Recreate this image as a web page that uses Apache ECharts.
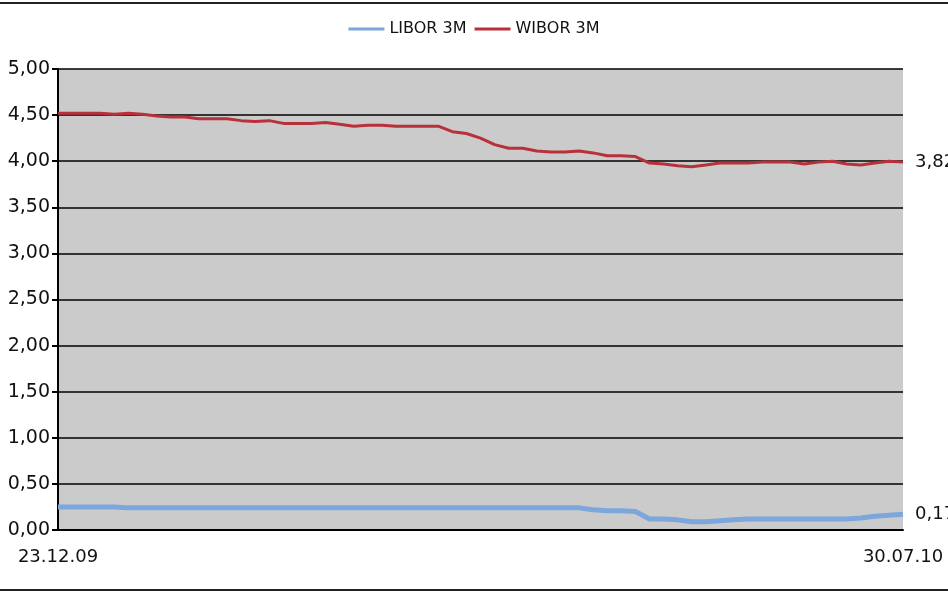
<!DOCTYPE html>
<html><head><meta charset="utf-8">
<script src="https://cdn.jsdelivr.net/npm/echarts@6/dist/echarts.min.js"></script>
<style>html,body{margin:0;padding:0;background:#fff}#c{width:948px;height:593px}</style>
</head><body><div id="c"></div>
<script>
const categories = ['23.12.09','','','','','','','','','','','','','','','','','','','','','','','','','','','','','','','','','','','','','','','','','','','','','','','','','','','','','','','','','','','','30.07.10'];
const libor = [0.25,0.25,0.25,0.25,0.25,0.24,0.24,0.24,0.24,0.24,0.24,0.24,0.24,0.24,0.24,0.24,0.24,0.24,0.24,0.24,0.24,0.24,0.24,0.24,0.24,0.24,0.24,0.24,0.24,0.24,0.24,0.24,0.24,0.24,0.24,0.24,0.24,0.24,0.22,0.21,0.21,0.20,0.12,0.12,0.11,0.09,0.09,0.10,0.11,0.12,0.12,0.12,0.12,0.12,0.12,0.12,0.12,0.13,0.15,0.16,0.17];
const wibor = [4.52,4.52,4.52,4.52,4.51,4.52,4.51,4.49,4.48,4.48,4.46,4.46,4.46,4.44,4.43,4.44,4.41,4.41,4.41,4.42,4.40,4.38,4.39,4.39,4.38,4.38,4.38,4.38,4.32,4.30,4.25,4.18,4.14,4.14,4.11,4.10,4.10,4.11,4.09,4.06,4.06,4.05,3.98,3.97,3.95,3.94,3.96,3.98,3.98,3.98,3.99,3.99,3.99,3.97,3.99,4.00,3.97,3.96,3.98,4.00,3.99];
const seriesNames = ['LIBOR 3M','WIBOR 3M'];
const endLabels = ['0,17','3,82'];
const yTicks = {min:0, max:5, interval:0.5};

const chart = echarts.init(document.getElementById('c'));
const font = 'DejaVu Sans';
chart.setOption({
  animation:false,
  textStyle:{fontFamily:font},
  legend:{top:16,left:'center',itemWidth:36,itemHeight:3,itemGap:8,
    icon:'rect',
    textStyle:{fontSize:16,color:'#111',fontFamily:font},
    data:seriesNames},
  grid:{left:58,right:45,top:69,bottom:63,show:true,backgroundColor:'#cbcbcb',borderWidth:0},
  xAxis:{type:'category',data:categories,boundaryGap:false,
    axisLine:{show:true,onZero:false,lineStyle:{color:'#000',width:2}},
    axisTick:{show:false},
    axisLabel:{interval:0,margin:18,fontSize:18,color:'#111',fontFamily:font,showMinLabel:true,showMaxLabel:true}},
  yAxis:{type:'value',min:yTicks.min,max:yTicks.max,interval:yTicks.interval,
    axisLine:{show:true,lineStyle:{color:'#000',width:2}},
    axisTick:{show:true,length:6,lineStyle:{color:'#000',width:2}},
    splitLine:{show:true,lineStyle:{color:'#000',width:1.5}},
    axisLabel:{fontSize:19,color:'#111',margin:8,fontFamily:font,
      formatter:v=>v.toFixed(2).replace('.',',')}},
  graphic:[
    {type:'rect',shape:{x:0,y:2,width:948,height:2},style:{fill:'#222'}},
    {type:'rect',shape:{x:0,y:589,width:948,height:2},style:{fill:'#222'}}
  ],
  series:[
    {name:seriesNames[0],type:'line',data:libor,symbol:'none',smooth:false,
      lineStyle:{color:'#7ba7dc',width:5},itemStyle:{color:'#7ba7dc'},
      endLabel:{show:true,formatter:()=>endLabels[0],fontSize:18,color:'#111',distance:12,fontFamily:font}},
    {name:seriesNames[1],type:'line',data:wibor,symbol:'none',smooth:false,
      lineStyle:{color:'#b8313a',width:3},itemStyle:{color:'#b8313a'},
      endLabel:{show:true,formatter:()=>endLabels[1],fontSize:18,color:'#111',distance:12,fontFamily:font}}
  ]
});
</script></body></html>
